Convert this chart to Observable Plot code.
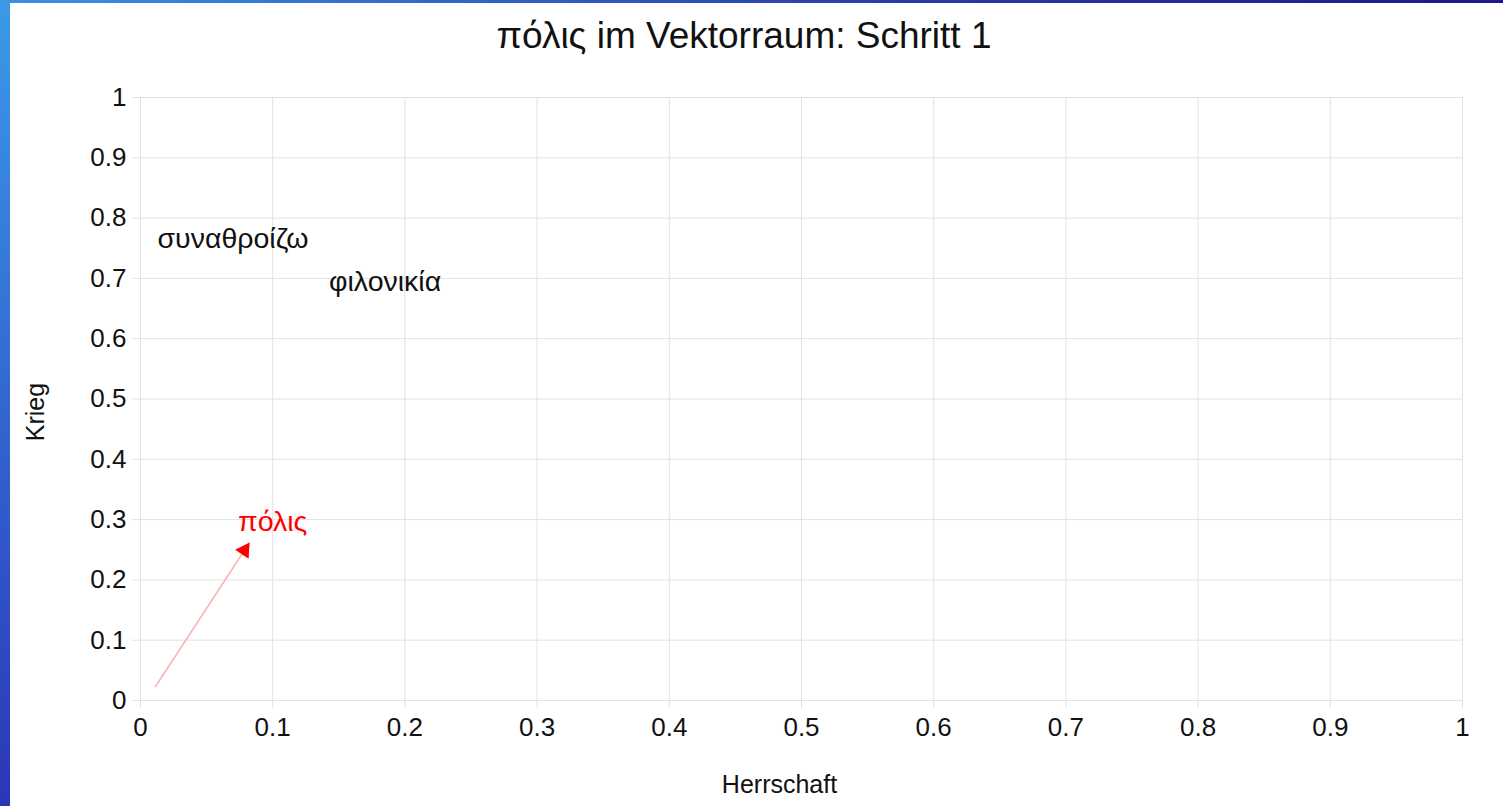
<!DOCTYPE html>
<html>
<head>
<meta charset="utf-8">
<script src="https://cdn.jsdelivr.net/npm/d3@7"></script>
<script src="https://cdn.jsdelivr.net/npm/@observablehq/plot@0.6"></script>
<style>
  html, body { margin: 0; padding: 0; background: #fff; width: 1503px; height: 806px; overflow: hidden; font-family: "Liberation Sans", Arial, sans-serif; }
  #leftbar { position: absolute; left: 0; top: 0; width: 10px; height: 806px; background: linear-gradient(to bottom, #3b9ae8, #2a36b8); }
  #topbar { position: absolute; left: 10px; top: 0; width: 1493px; height: 3px; background: linear-gradient(to right, #3a90e6, #2a3aaa 60%, #1e168e); }
  #title { position: absolute; left: 0; top: 0; width: 1488px; height: 70px; text-align: center; font-size: 37px; line-height: 72px; color: #111; }
  #chart { position: absolute; left: 0; top: 70px; }
</style>
</head>
<body>
<div id="leftbar"></div>
<div id="topbar"></div>
<div id="title">πόλις im Vektorraum: Schritt 1</div>
<div id="chart"></div>
<script>
// Data
const xTicks = [0, 0.1, 0.2, 0.3, 0.4, 0.5, 0.6, 0.7, 0.8, 0.9, 1];
const yTicks = [0, 0.1, 0.2, 0.3, 0.4, 0.5, 0.6, 0.7, 0.8, 0.9, 1];
const wordLabels = ["συναθροίζω", "φιλονικία"];
const wordX = [0.07, 0.185];
const wordY = [0.766, 0.695];
const targetLabel = ["πόλις"];
const targetX = [0.10];
const targetY = [0.297];
const arrowX1 = [0.011];
const arrowY1 = [0.022];
const arrowX2 = [0.0825];
const arrowY2 = [0.262];
const xLabel = "Herrschaft";
const yLabel = "Krieg";

const words = wordLabels.map((w, i) => ({w, x: wordX[i], y: wordY[i]}));
const target = targetLabel.map((w, i) => ({w, x: targetX[i], y: targetY[i]}));
const arrows = arrowX1.map((d, i) => ({x1: arrowX1[i], y1: arrowY1[i], x2: arrowX2[i], y2: arrowY2[i]}));

const gridColor = "#e2e2e2";

const chart = Plot.plot({
  width: 1503,
  height: 736,
  marginLeft: 140,
  marginRight: 41,
  marginTop: 27,
  marginBottom: 106,
  style: {fontFamily: "'Liberation Sans', Arial, sans-serif", background: "transparent", overflow: "visible"},
  x: {domain: [0, 1]},
  y: {domain: [0, 1]},
  marks: [
    Plot.gridX(xTicks, {stroke: gridColor, strokeOpacity: 1}),
    Plot.gridY(yTicks, {stroke: gridColor, strokeOpacity: 1}),
    Plot.axisX(xTicks, {tickSize: 8, tickPadding: 9, stroke: gridColor, fill: "#111", fontSize: 26, tickFormat: d => String(d), label: null}),
    Plot.axisY(yTicks, {tickSize: 8, tickPadding: 6, stroke: gridColor, fill: "#111", fontSize: 26, tickFormat: d => String(d), label: null}),
    Plot.text([xLabel], {frameAnchor: "bottom", textAnchor: "middle", text: d => d, dx: -22, dy: 92, fontSize: 25, fill: "#111"}),
    Plot.text([yLabel], {frameAnchor: "left", textAnchor: "middle", text: d => d, rotate: -90, dx: -105, dy: 13, fontSize: 25, fill: "#111"}),
    Plot.link(arrows, {x1: "x1", y1: "y1", x2: "x2", y2: "y2", stroke: "#ffb0b0", strokeWidth: 1.5}),
    Plot.dot(arrows, {x: "x2", y: "y2", symbol: "triangle", r: 6, fill: "red", stroke: "none", rotate: 33.5, dx: -5.1, dy: 7.8}),
    Plot.text(words, {x: "x", y: "y", text: "w", fontSize: 28.5, fill: "#111", textAnchor: "middle"}),
    Plot.text(target, {x: "x", y: "y", text: "w", fontSize: 28.5, fill: "red", textAnchor: "middle"})
  ]
});
document.getElementById("chart").appendChild(chart);
</script>
</body>
</html>
